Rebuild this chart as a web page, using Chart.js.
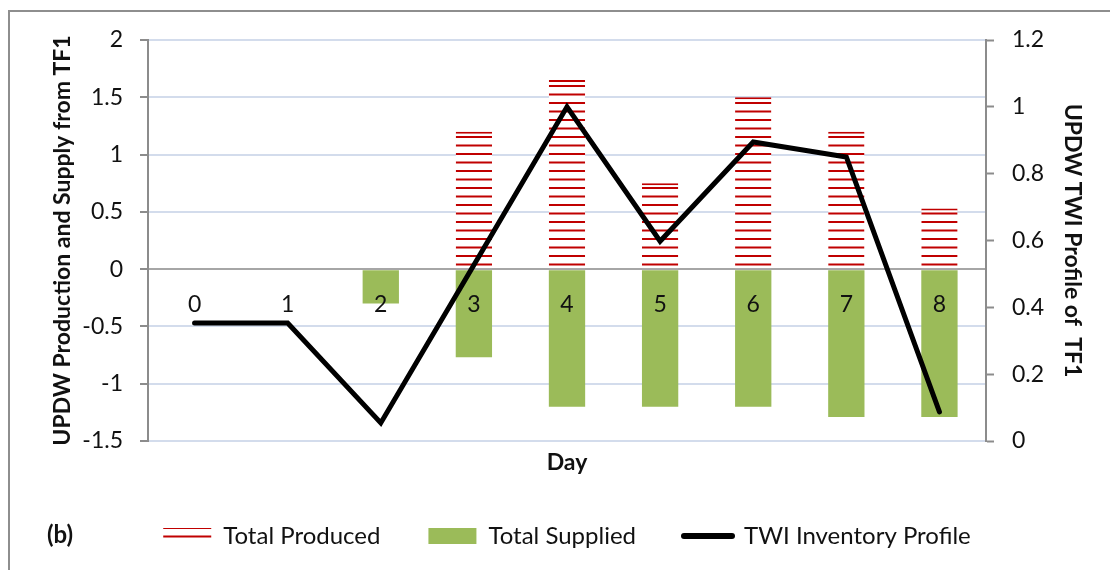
<!DOCTYPE html>
<html><head><meta charset="utf-8">
<script src="https://cdn.jsdelivr.net/npm/chart.js@4.4.1/dist/chart.umd.min.js"></script>
<style>
html,body{margin:0;padding:0;background:#fff;overflow:hidden;width:1110px;height:570px;}
#frame{position:absolute;left:8px;top:10px;width:1300px;height:800px;border:2px solid #8e8e8e;box-sizing:border-box;}
#wrap{position:absolute;left:0;top:0;width:1110px;height:570px;}
</style></head><body>
<div id="frame"></div>
<div id="wrap"><canvas id="c" width="1110" height="570"></canvas></div>
<script>
const days = ['0','1','2','3','4','5','6','7','8'];
const totalProduced = [0, 0, 0, 1.2, 1.65, 0.75, 1.5, 1.2, 0.53];
const totalSupplied = [0, 0, -0.3, -0.77, -1.2, -1.2, -1.2, -1.29, -1.29];
const twiInventory = [0.353, 0.353, 0.054, 0.527, 1.0, 0.598, 0.895, 0.85, 0.087];
const leftTicks = [-1.5, -1, -0.5, 0, 0.5, 1, 1.5, 2];
const rightTicks = [0, 0.2, 0.4, 0.6, 0.8, 1, 1.2];
const seriesNames = ['Total Produced', 'Total Supplied', 'TWI Inventory Profile'];

const FONT = 'Lato, "Open Sans", sans-serif';
const TXT = '#111';

function stripePattern() {
  const c = document.createElement('canvas');
  c.width = 8; c.height = 17;
  const g = c.getContext('2d');
  g.fillStyle = '#ffffff'; g.fillRect(0, 0, 8, 17);
  g.fillStyle = '#C00000';
  g.fillRect(0, 0, 8, 2);
  g.fillRect(0, 8.5, 8, 2);
  return g.createPattern(c, 'repeat');
}
const stripes = stripePattern();

const labelB = {
  id: 'labelB',
  afterDraw(chart) {
    const ctx = chart.ctx;
    ctx.save();
    ctx.font = 'bold 24px ' + FONT;
    ctx.fillStyle = TXT;
    ctx.textBaseline = 'middle';
    ctx.textAlign = 'left';
    ctx.fillText('(b)', 47, 535);
    ctx.restore();
  }
};

new Chart(document.getElementById('c'), {
  data: {
    labels: days,
    datasets: [
      { type: 'bar', label: seriesNames[0], data: totalProduced, backgroundColor: stripes,
        borderColor: '#C00000', borderWidth: { top: 2, left: 0, right: 0, bottom: 0 }, borderSkipped: 'bottom',
        grouped: false, barPercentage: 0.39, categoryPercentage: 1, order: 2, yAxisID: 'y', xAxisID: 'x' },
      { type: 'bar', label: seriesNames[1], data: totalSupplied, backgroundColor: '#9BBB59',
        borderWidth: 0, grouped: false, barPercentage: 0.39, categoryPercentage: 1, order: 1, yAxisID: 'y', xAxisID: 'x' },
      { type: 'line', label: seriesNames[2], data: twiInventory, borderColor: '#000', backgroundColor: '#000',
        borderWidth: 5, pointRadius: 0, tension: 0, borderCapStyle: 'round', borderJoinStyle: 'miter',
        pointStyle: 'line', order: 0, yAxisID: 'y2', xAxisID: 'x' }
    ]
  },
  options: {
    responsive: false,
    animation: false,
    layout: { padding: { left: 24, right: 0, top: 40, bottom: 12 } },
    plugins: {
      tooltip: { enabled: false },
      legend: {
        position: 'bottom',
        fullSize: true,
        labels: {
          usePointStyle: true,
          pointStyleWidth: 48,
          boxHeight: 16,
          padding: 48,
          color: TXT,
          font: { family: FONT, size: 24 },
          sort: (a, b) => a.datasetIndex - b.datasetIndex,
          generateLabels(chart) {
            const items = Chart.defaults.plugins.legend.labels.generateLabels(chart);
            items.forEach(it => {
              if (it.datasetIndex === 2) { it.pointStyle = 'line'; it.lineWidth = 6; it.strokeStyle = '#000'; it.lineCap = 'round'; }
              else { it.pointStyle = 'rect'; it.lineWidth = 0; }
            });
            return items;
          }
        }
      }
    },
    scales: {
      x: {
        type: 'category',
        position: { y: 0 },
        grid: { display: false, drawTicks: false },
        border: { display: true, color: '#A6A6A6', width: 2 },
        ticks: { color: TXT, font: { family: FONT, size: 23 }, padding: 22, z: 1, maxRotation: 0 }
      },
      x2: {
        type: 'category',
        position: 'bottom',
        grid: { display: false, drawTicks: false },
        border: { display: false },
        ticks: { display: false },
        title: { display: true, text: 'Day', color: TXT, font: { family: FONT, size: 23, weight: 'bold' }, padding: { top: 6, bottom: 0 } },
        afterFit(s) { s.height = 35; }
      },
      y: {
        type: 'linear',
        position: 'left',
        min: -1.5, max: 2,
        afterBuildTicks(s) { s.ticks = leftTicks.map(v => ({ value: v })); },
        grid: { color: '#D3DCEC', lineWidth: 2, tickColor: '#8C8C8C', tickLength: 8, tickWidth: 2 },
        border: { display: true, color: '#8C8C8C', width: 2 },
        ticks: { color: TXT, font: { family: FONT, size: 23 }, padding: 17, callback: v => String(v) },
        title: { display: true, text: 'UPDW Production and Supply from TF1', color: TXT,
                 font: { family: FONT, size: 23, weight: 'bold' }, padding: { top: 25, bottom: 0 } },
        afterFit(s) { s.width = 124; }
      },
      y2: {
        type: 'linear',
        position: 'right',
        min: 0, max: 1.2,
        afterBuildTicks(s) { s.ticks = rightTicks.map(v => ({ value: v })); },
        grid: { drawOnChartArea: false, tickColor: '#8C8C8C', tickLength: 8, tickWidth: 2 },
        border: { display: true, color: '#8C8C8C', width: 2 },
        ticks: { color: TXT, font: { family: FONT, size: 23 }, padding: 18, callback: v => String(v) },
        title: { display: true, text: 'UPDW TWI Profile of  TF1', color: TXT,
                 font: { family: FONT, size: 23, weight: 'bold' }, padding: { top: 24, bottom: 0 } },
        afterFit(s) { s.width = 124; }
      }
    }
  },
  plugins: [labelB]
});
</script>
</body></html>
